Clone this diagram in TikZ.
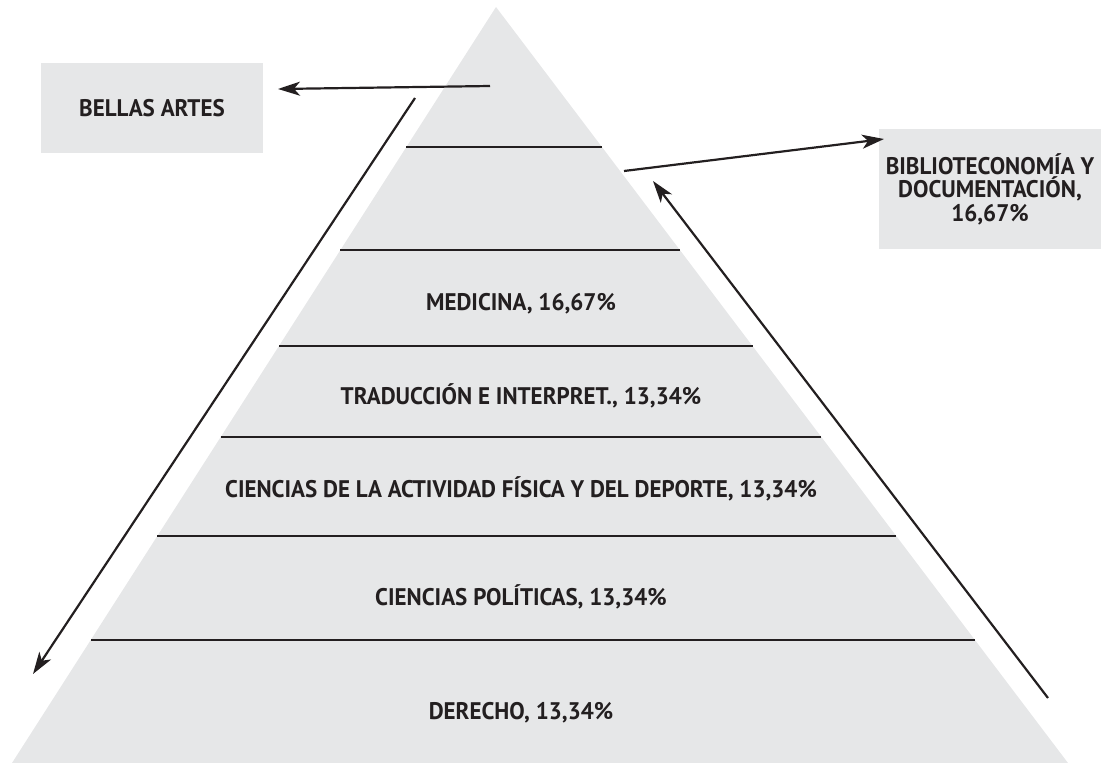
\documentclass[tikz,border=0pt]{standalone}
\usepackage{fontspec}
\setmainfont{PT Sans}[FakeStretch=0.96]
\usetikzlibrary{arrows.meta}
\definecolor{pyr}{HTML}{E6E7E8}
\definecolor{ink}{HTML}{231F20}
\begin{document}
\begin{tikzpicture}[x=1pt,y=-1pt,
  lbl/.style={font=\bfseries\fontsize{24}{25}\selectfont, text=ink, inner sep=0pt, anchor=base},
  sepline/.style={draw=ink, line width=2.8pt},
  arr/.style={draw=ink, line width=2.2pt, -{Stealth[length=22pt,width=14pt,inset=6pt]}},
  infobox/.style={fill=pyr, inner sep=0pt, text=ink, align=center,
    font=\bfseries\fontsize{24}{23.5}\selectfont}]
\useasboundingbox (0,0) rectangle (1101,763);
% pyramid
\coordinate (apex) at (496,7);
\coordinate (bl) at (12,763);
\coordinate (br) at (1068,763);
\fill[pyr] (apex) -- (bl) -- (br) -- cycle;
% separators
\coordinate (l1) at (406.4,147); \coordinate (r1) at (601.9,147);
\coordinate (l2) at (340.4,250); \coordinate (r2) at (679.9,250);
\coordinate (l3) at (279.0,346); \coordinate (r3) at (752.5,346);
\coordinate (l4) at (220.7,437); \coordinate (r4) at (821.3,437);
\coordinate (l5) at (157.3,536); \coordinate (r5) at (896.2,536);
\coordinate (l6) at (90.8,640);  \coordinate (r6) at (974.9,640);
\foreach \i in {1,...,6} {\draw[sepline] (l\i) -- (r\i);}
% band labels
\node[lbl] (med) at (521,310) {MEDICINA, 16,67\%};
\node[lbl] (trad) at (521,404) {TRADUCCIÓN E INTERPRET., 13,34\%};
\node[lbl] (cafd) at (521,497) {CIENCIAS DE LA ACTIVIDAD FÍSICA Y DEL DEPORTE, 13,34\%};
\node[lbl] (cpol) at (521,605) {CIENCIAS POLÍTICAS, 13,34\%};
\node[lbl] (der) at (521,719) {DERECHO, 13,34\%};
% side boxes
\node[infobox, minimum width=222pt, minimum height=90pt] (bellas) at (152,108) {BELLAS ARTES};
\node[infobox, minimum width=222pt, minimum height=120pt] (biblio) at (990,189)
  {BIBLIOTECONOMÍA Y\\DOCUMENTACIÓN,\\16,67\%};
% arrows
\coordinate (s1) at (490,86);   \coordinate (t1) at (278,89);
\coordinate (s2) at (415,98);   \coordinate (t2) at (33,674);
\coordinate (s3) at (624,171);  \coordinate (t3) at (884,139);
\coordinate (s4) at (1048,698); \coordinate (t4) at (653,181);
\draw[arr] (s1) -- (t1);
\draw[arr] (s2) -- (t2);
\draw[arr] (s3) -- (t3);
\draw[arr] (s4) -- (t4);
\end{tikzpicture}
\end{document}
